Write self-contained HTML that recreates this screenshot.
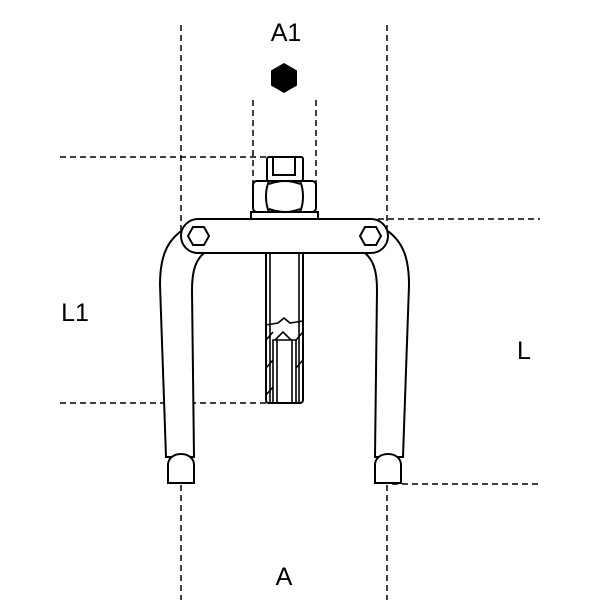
<!DOCTYPE html>
<html><head><style>body{margin:0;background:#fff}svg{display:block}</style></head><body>
<svg width="600" height="600" viewBox="0 0 600 600" xmlns="http://www.w3.org/2000/svg" font-family="Liberation Sans, sans-serif">
<g stroke="#000" stroke-width="1.5" stroke-dasharray="6,4" fill="none">
<line x1="181" y1="25" x2="181" y2="600"/>
<line x1="387" y1="25" x2="387" y2="600"/>
<line x1="253" y1="100" x2="253" y2="190"/>
<line x1="316" y1="100" x2="316" y2="190"/>
<line x1="60" y1="157" x2="266" y2="157"/>
<line x1="378" y1="219" x2="540" y2="219"/>
<line x1="60" y1="403" x2="266" y2="403"/>
<line x1="392" y1="484" x2="540" y2="484"/>
</g>
<polygon points="284,63 297,70.5 297,85.5 284,93 271,85.5 271,70.5" fill="#000"/>
<g fill="#fff" stroke="#000" stroke-width="2">
<path d="M186,228 C165,240 160,260 160,285 L166,457 L194,457 L192,290 C192,270 196,260 204,253 Z"/>
<path d="M383,228 C404,240 409,260 409,285 L403,457 L375,457 L377,290 C377,270 373,260 365,253 Z"/>
<path d="M168,483 L168,465 C168,458 174,454 181,454 C188,454 194,458 194,465 L194,483 Z"/>
<path d="M375,483 L375,465 C375,458 381,454 388,454 C395,454 401,458 401,465 L401,483 Z"/>
<rect x="266" y="250" width="37" height="153" rx="3"/>
<rect x="181" y="219" width="207" height="34" rx="17"/>
<polygon points="188,236 193,227 204,227 209,236 204,245 193,245"/>
<polygon points="360,236 365,227 376,227 381,236 376,245 365,245"/>
<rect x="251" y="212" width="67" height="7"/>
<rect x="253" y="181" width="63" height="31" rx="4"/>
<path d="M269,181 C265,190 265,203 269,212 M300,181 C304,190 304,203 300,212 M269,184 C280,180 290,180 300,184 M269,209 C280,213 290,213 300,209" fill="none"/>
<rect x="267" y="157" width="36" height="24" rx="2"/>
<path d="M273,157 L273,175 L295,175 L295,157" fill="none"/>
</g>
<g stroke="#000" stroke-width="1.6" fill="none">
<line x1="270" y1="253" x2="270" y2="403"/>
<line x1="299" y1="253" x2="299" y2="403"/>
<path d="M266,325 L278,323 L284,318 L290,323 L303,321"/>
<path d="M273,403 V340 H296 V403"/>
<path d="M275,340 L283,332 L291,340"/>
<line x1="277" y1="340" x2="277" y2="403"/>
<line x1="292" y1="340" x2="292" y2="403"/>
<line x1="266" y1="340" x2="273" y2="332"/>
<line x1="266" y1="368" x2="273" y2="360"/>
<line x1="266" y1="395" x2="273" y2="387"/>
<line x1="296" y1="340" x2="303" y2="332"/>
<line x1="296" y1="368" x2="303" y2="360"/>
</g>
<g font-size="25" fill="#000" text-anchor="middle">
<text x="286" y="41">A1</text>
<text x="75" y="321">L1</text>
<text x="524" y="359">L</text>
<text x="284" y="585">A</text>
</g>
</svg>
</body></html>
